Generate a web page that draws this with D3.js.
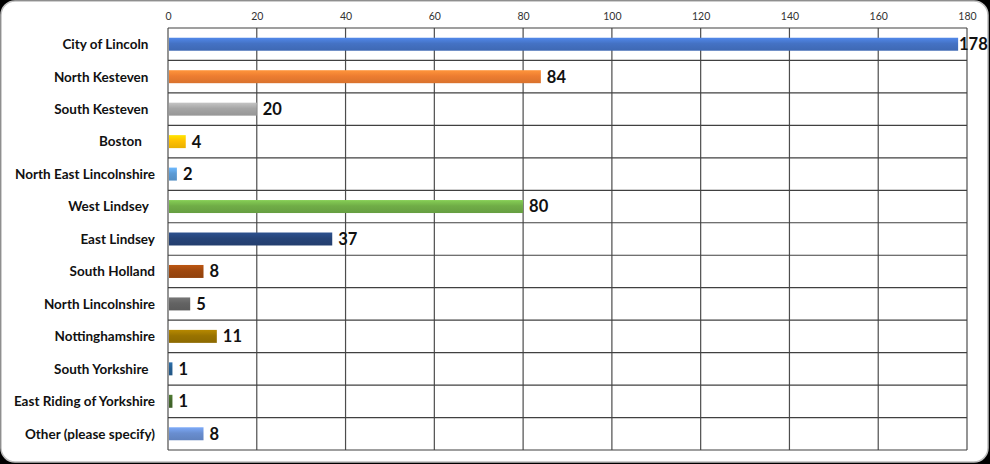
<!DOCTYPE html>
<html>
<head>
<meta charset="UTF-8">
<title>Responses by area</title>
<script src="https://cdn.jsdelivr.net/npm/d3@7"></script>
<style>
  body { margin:0; background:#000; }
  svg { display:block; }
  .cat { white-space: pre; }
</style>
</head>
<body>
<div id="chart"></div>
<script>
// data (labels keep the trailing spaces of the source sheet)
var areas = ["City of Lincoln  ","North Kesteven  ","South Kesteven  ","Boston    ",
  "North East Lincolnshire","West Lindsey  ","East Lindsey","South Holland",
  "North Lincolnshire","Nottinghamshire","South Yorkshire  ",
  "East Riding of Yorkshire","Other (please specify)"];
var counts = [178,84,20,4,2,80,37,8,5,11,1,1,8];
var barColors = ["#4472C4","#ED7D31","#A5A5A5","#FFC000","#5B9BD5","#70AD47",
  "#264478","#9E480E","#636363","#997300","#255E91","#43682B","#698ED0"];
var xTicks = [0,20,40,60,80,100,120,140,160,180];

var W = 990, H = 464;
var plotL = 168, plotR = 967, plotT = 28, plotB = 450;

var svg = d3.select("#chart").append("svg")
  .attr("width", W).attr("height", H);

svg.append("rect")
  .attr("x",1).attr("y",1).attr("width",W-3).attr("height",H-3)
  .attr("rx",14).attr("ry",14)
  .attr("fill","#fff").attr("stroke","#bfbfbf").attr("stroke-width",1.5);

var x = d3.scaleLinear().domain([0,180]).range([plotL,plotR]);
var y = d3.scaleBand().domain(areas).range([plotT,plotB]).paddingInner(0.6).paddingOuter(0.3);

// gradients for each bar
var defs = svg.append("defs");
barColors.forEach(function(c,i){
  var g = defs.append("linearGradient").attr("id","g"+i)
    .attr("x1",0).attr("y1",0).attr("x2",0).attr("y2",1);
  var base = d3.color(c);
  g.append("stop").attr("offset","0%").attr("stop-color", base.brighter(0.5));
  g.append("stop").attr("offset","45%").attr("stop-color", c);
  g.append("stop").attr("offset","100%").attr("stop-color", base.darker(0.25));
});

// vertical grid
var step = (plotB-plotT)/areas.length;
svg.append("g").selectAll("line").data(xTicks).enter().append("line")
  .attr("x1",function(d){return x(d);}).attr("x2",function(d){return x(d);})
  .attr("y1",plotT).attr("y2",plotB)
  .attr("stroke","#4d4d4d").attr("stroke-width",1.2);

// horizontal band lines
svg.append("g").selectAll("line").data(d3.range(areas.length+1)).enter().append("line")
  .attr("x1",plotL).attr("x2",plotR)
  .attr("y1",function(i){return plotT+i*step;}).attr("y2",function(i){return plotT+i*step;})
  .attr("stroke","#404040").attr("stroke-width",1.2);

var axis = svg.append("g").attr("transform","translate(0,"+plotT+")")
  .call(d3.axisTop(x).tickValues(xTicks).tickSize(0).tickPadding(8));
axis.select(".domain").remove();
axis.selectAll("text").attr("font-family","Lato, sans-serif").attr("font-size",10.5)
  .attr("fill","#333");

// bars
svg.append("g").selectAll("rect").data(counts).enter().append("rect")
  .attr("x",x(0)+1)
  .attr("y",function(d,i){return y(areas[i]);})
  .attr("width",function(d){return x(d)-x(0)-1;})
  .attr("height",y.bandwidth())
  .attr("fill",function(d,i){return "url(#g"+i+")";});

// value labels
svg.append("g").selectAll("text").data(counts).enter().append("text")
  .attr("x",function(d){return Math.min(x(d)+6, W-31);})
  .attr("y",function(d,i){return y(areas[i])+y.bandwidth()/2;})
  .attr("dy","0.36em")
  .attr("font-family","Lato, sans-serif").attr("font-weight","bold")
  .attr("font-size",16.5).attr("fill","#111")
  .text(function(d){return d;});

// category labels
svg.append("g").selectAll("text").data(areas).enter().append("text")
  .attr("class","cat")
  .attr("x",155)
  .attr("y",function(d){return y(d)+y.bandwidth()/2;})
  .attr("dy","0.36em").attr("text-anchor","end")
  .attr("font-family","Lato, sans-serif").attr("font-weight","bold")
  .attr("font-size",13.5).attr("fill","#111")
  .text(function(d){return d;});
</script>
</body>
</html>
